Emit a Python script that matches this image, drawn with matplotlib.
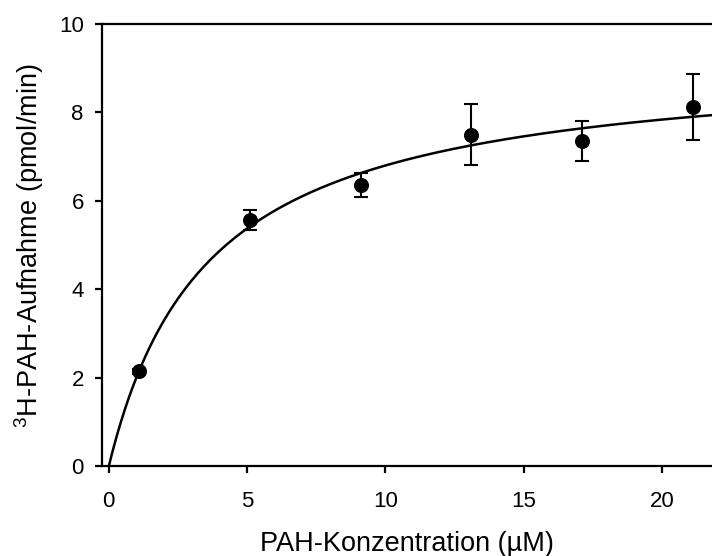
import numpy as np
import matplotlib.pyplot as plt

plt.rcParams['font.family'] = ['Liberation Sans', 'DejaVu Sans']
plt.rcParams['mathtext.default'] = 'regular'

# measured data (mean +- error)
conc = [1.1, 5.1, 9.1, 13.1, 17.1, 21.1]
uptake = [2.15, 5.57, 6.35, 7.50, 7.35, 8.12]
err = [0.05, 0.23, 0.27, 0.68, 0.45, 0.74]

# Michaelis-Menten fit parameters
vmax = 9.25
km = 3.6

fig = plt.figure(figsize=(7.12, 5.56), dpi=100)
ax = fig.add_axes([0.143, 0.161, 0.857, 0.796])

xfit = np.linspace(0, 22, 300)
ax.plot(xfit, vmax * xfit / (km + xfit), color='black', lw=1.8)
ax.errorbar(conc, uptake, yerr=err, fmt='o', color='black', ms=9.8,
            ecolor='black', elinewidth=1.5, capsize=5, capthick=1.5)

ax.set_xlim(-0.25, 21.8)
ax.set_ylim(0, 10)
ax.set_xticks([0, 5, 10, 15, 20])
ax.set_yticks([0, 2, 4, 6, 8, 10])

ax.spines['right'].set_visible(False)
for s in ['left', 'bottom', 'top']:
    ax.spines[s].set_linewidth(1.6)
ax.tick_params(direction='out', length=5, width=1.6, labelsize=16, top=False)
ax.tick_params(axis='x', pad=13)
ax.tick_params(axis='y', pad=8)

ax.set_xlabel('PAH-Konzentration (µM)', fontsize=19.5, labelpad=13)
ax.set_ylabel('$^{3}$H-PAH-Aufnahme (pmol/min)', fontsize=19.5, labelpad=9)

fig.savefig('out.png', dpi=100)
